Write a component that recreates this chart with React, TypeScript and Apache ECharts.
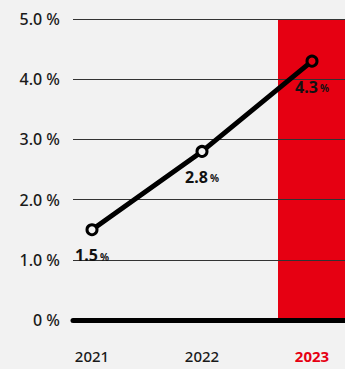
import React, { useEffect, useRef } from "react";
import * as echarts from "echarts";

const years = ["2021", "2022", "2023"];
const rates = [1.5, 2.8, 4.3];
const highlightYear = "2023";
const yTickValues = [0, 1, 2, 3, 4, 5];
const yTickLabels = ["0 %", "1.0 %", "2.0 %", "3.0 %", "4.0 %", "5.0 %"];
const RED = "#e60012";
const BG = "#f2f2f2";
const FONT = "Noto Sans";

export default function App() {
  const ref = useRef<HTMLDivElement>(null);
  useEffect(() => {
    document.body.style.margin = "0";
    const chart = echarts.init(ref.current!, undefined, { renderer: "svg" });
    const highlightData = years.map((y) => (y === highlightYear ? yTickValues[yTickValues.length - 1] : "-"));
    chart.setOption({
      animation: false,
      backgroundColor: BG,
      grid: [
        { left: 73, right: 0, top: 19, bottom: 49, outerBoundsMode: "none", containLabel: false },
        { left: 37, width: 330, top: 19, bottom: 49, outerBoundsMode: "none", containLabel: false },
      ],
      xAxis: [
        {
          gridIndex: 0,
          type: "value",
          min: 0,
          max: 1,
          z: 4,
          axisLine: { show: true, onZero: false, lineStyle: { color: "#000", width: 5 } },
          axisTick: { show: false },
          axisLabel: { show: false },
          splitLine: { show: false },
        },
        {
          gridIndex: 1,
          type: "category",
          data: years,
          axisLine: { show: false },
          axisTick: { show: false },
          axisLabel: {
            margin: 28,
            formatter: (v: string) => (v === highlightYear ? `{hl|${v}}` : `{n|${v}}`),
            rich: {
              n: { fontFamily: FONT, fontSize: 15, fontWeight: 500, color: "#1a1a1a" },
              hl: { fontFamily: FONT, fontSize: 15, fontWeight: "bold", color: RED },
            },
          },
        },
      ],
      yAxis: [
        {
          gridIndex: 0,
          type: "value",
          min: 0,
          max: 5,
          interval: 1,
          z: 3,
          axisLine: { show: false },
          axisTick: { show: false },
          axisLabel: {
            margin: 13,
            fontFamily: FONT,
            fontSize: 16,
            fontWeight: 500,
            color: "#1a1a1a",
            formatter: (v: number) => yTickLabels[yTickValues.indexOf(v)],
          },
          splitLine: { show: true, lineStyle: { color: "#333", width: 1 } },
        },
        {
          gridIndex: 1,
          type: "value",
          min: 0,
          max: 5,
          show: false,
          splitLine: { show: false },
        },
      ],
      series: [
        {
          type: "bar",
          xAxisIndex: 1,
          yAxisIndex: 1,
          data: highlightData,
          barWidth: 68,
          itemStyle: { color: RED },
          z: 1,
          silent: true,
        },
        {
          type: "line",
          xAxisIndex: 1,
          yAxisIndex: 1,
          data: rates,
          z: 6,
          lineStyle: { color: "#000", width: 5 },
          symbol: "circle",
          symbolSize: 10,
          itemStyle: {
            color: (p: any) => (p.name === highlightYear ? RED : BG),
            borderColor: "#000",
            borderWidth: 3,
          },
          label: {
            show: true,
            position: "bottom",
            distance: 11,
            formatter: (p: any) => `{a|${p.value.toFixed(1)}}{b|%}`,
            rich: {
              a: { fontFamily: FONT, fontSize: 16, fontWeight: "bold", color: "#111" },
              b: { fontFamily: FONT, fontSize: 10, fontWeight: "bold", color: "#111", padding: [3, 0, 0, 2] },
            },
          },
        },
      ],
    });
    return () => chart.dispose();
  }, []);
  return <div ref={ref} style={{ position: "absolute", left: 0, top: 0, width: 345, height: 369 }} />;
}
